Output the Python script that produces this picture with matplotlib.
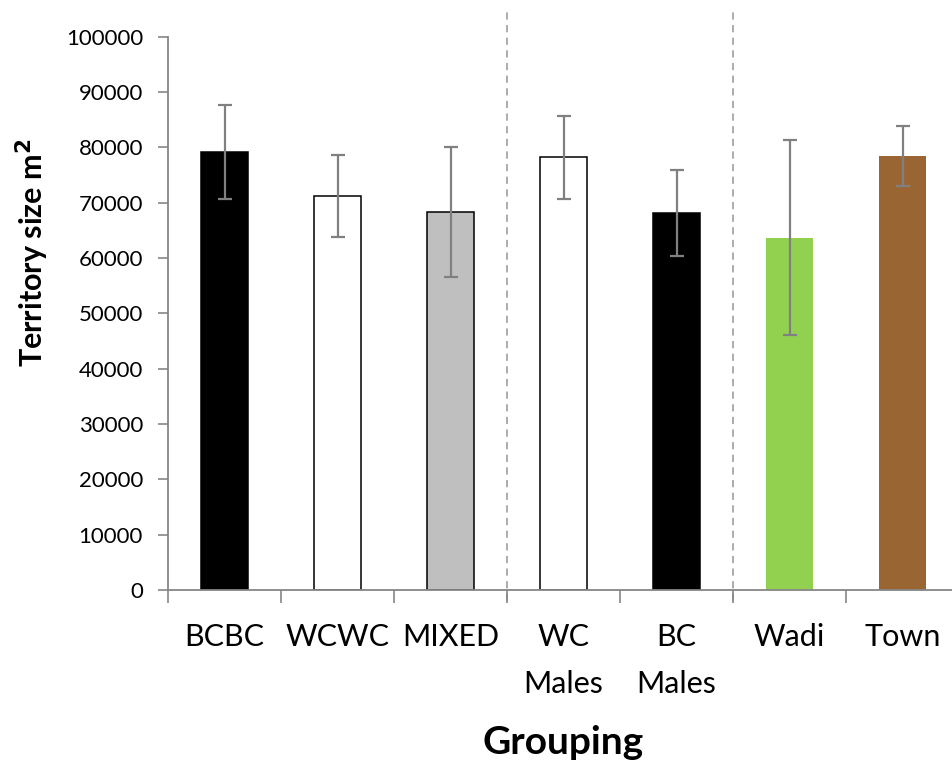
import matplotlib

matplotlib.use("Agg")
import matplotlib.pyplot as plt
import matplotlib.transforms as mtransforms

plt.rcParams["font.family"] = ["Lato", "DejaVu Sans"]

categories = ["BCBC", "WCWC", "MIXED", "WC\nMales", "BC\nMales", "Wadi", "Town"]
means = [79200, 71200, 68350, 78200, 68100, 63650, 78450]
errors = [8450, 7400, 11800, 7550, 7800, 17600, 5350]
fill_colors = ["#000000", "#FFFFFF", "#BFBFBF", "#FFFFFF", "#000000", "#92D050", "#996633"]
edge_colors = ["#000000", "#000000", "#000000", "#000000", "#000000", "none", "none"]
group_breaks = [2.5, 4.5]
y_ticks = list(range(0, 100001, 10000))

axis_grey = "#868686"

fig = plt.figure(figsize=(9.52, 7.62), dpi=100)
ax = fig.add_axes([168 / 952, 172 / 762, 791 / 952, 553.3 / 762])

x = list(range(len(categories)))
ax.bar(x, means, width=0.41, color=fill_colors, edgecolor=edge_colors, linewidth=1.1, zorder=2)
ax.errorbar(x, means, yerr=errors, fmt="none", ecolor="#808080", elinewidth=1.6,
            capsize=5, capthick=1.6, zorder=3)

# dashed separators between the groupings
trans = mtransforms.blended_transform_factory(ax.transData, ax.transAxes)
for b in group_breaks:
    ax.plot([b, b], [-0.02, 1.045], transform=trans, color="#A6A6A6", lw=1.3,
            ls=(0, (4, 3)), clip_on=False, zorder=1)

ax.set_xlim(-0.5, len(categories) - 0.5)
ax.set_ylim(0, 100000)
ax.set_yticks(y_ticks)
ax.set_yticklabels([str(v) for v in y_ticks], fontsize=16)

ax.set_xticks(x)
ax.set_xticklabels(categories, fontsize=22, linespacing=1.8, va="top")
ax.set_xticks([i - 0.5 for i in range(len(categories) + 1)], minor=True)
ax.tick_params(axis="x", which="major", length=0, pad=24)
ax.tick_params(axis="x", which="minor", length=9, width=1.2, color=axis_grey, direction="out")
ax.tick_params(axis="y", length=7, width=1.2, color=axis_grey, direction="out", pad=11)

for side in ["top", "right"]:
    ax.spines[side].set_visible(False)
for side in ["left", "bottom"]:
    ax.spines[side].set_color(axis_grey)
    ax.spines[side].set_linewidth(1.3)

fig.text(563 / 952, 1 - 742 / 762, "Grouping", ha="center", va="center",
         fontsize=28, fontweight="bold")
fig.text(32 / 952, 1 - 253 / 762, "Territory size m$^\\mathbf{2}$", ha="center", va="center",
         rotation=90, fontsize=22, fontweight="bold")

fig.savefig("out.png", dpi=100, facecolor="white")
